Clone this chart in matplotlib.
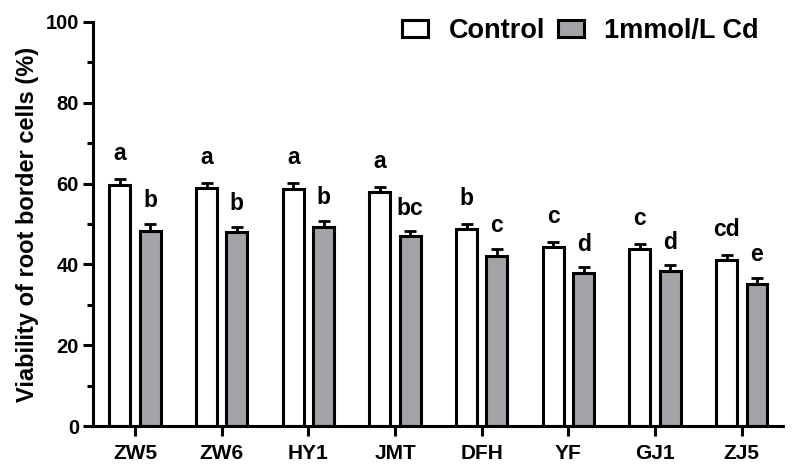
import numpy as np
import matplotlib
matplotlib.use("Agg")
import matplotlib.pyplot as plt
from matplotlib.ticker import MultipleLocator

plt.rcParams['font.family'] = ['Liberation Sans', 'DejaVu Sans']
plt.rcParams['font.weight'] = 'bold'

cultivars = ['ZW5', 'ZW6', 'HY1', 'JMT', 'DFH', 'YF', 'GJ1', 'ZJ5']
control = [59.6, 59.0, 58.7, 57.8, 48.7, 44.3, 43.8, 41.0]
control_err = [1.5, 1.1, 1.5, 1.3, 1.3, 1.3, 1.3, 1.3]
cadmium = [48.3, 47.9, 49.3, 47.0, 42.0, 37.9, 38.3, 35.2]
cadmium_err = [1.7, 1.4, 1.4, 1.2, 1.8, 1.4, 1.5, 1.4]
control_letters = ['a', 'a', 'a', 'a', 'b', 'c', 'c', 'cd']
cadmium_letters = ['b', 'b', 'b', 'bc', 'c', 'd', 'd', 'e']
series_names = ['Control', '1mmol/L Cd']

fig = plt.figure(figsize=(7.99, 4.76), dpi=100)
ax = fig.add_axes([0.1164, 0.105, 0.864, 0.849])

x = np.arange(len(cultivars))
w = 0.24
off = 0.175
lw = 2.2

ax.bar(x - off, control, w, color='white', edgecolor='black', linewidth=lw,
       label=series_names[0], zorder=2)
ax.bar(x + off, cadmium, w, color='#a2a2a7', edgecolor='black', linewidth=lw,
       label=series_names[1], zorder=2)
ax.errorbar(x - off, control, yerr=[np.zeros(len(x)), control_err], fmt='none',
            ecolor='black', elinewidth=2, capsize=4, capthick=2, zorder=3)
ax.errorbar(x + off, cadmium, yerr=[np.zeros(len(x)), cadmium_err], fmt='none',
            ecolor='black', elinewidth=2, capsize=4, capthick=2, zorder=3)

# significance letters above the error bars
for i in range(len(x)):
    ax.annotate(control_letters[i], (x[i] - off, control[i] + control_err[i]),
                xytext=(0, 13.5), textcoords='offset points', ha='center',
                va='baseline', fontsize=16.5, fontweight='bold')
    ax.annotate(cadmium_letters[i], (x[i] + off, cadmium[i] + cadmium_err[i]),
                xytext=(0, 12), textcoords='offset points', ha='center',
                va='baseline', fontsize=16.5, fontweight='bold')

ax.set_xlim(-0.485, 7.48)
ax.set_ylim(0, 100)
ax.set_xticks(x)
ax.set_xticklabels(cultivars)
ax.yaxis.set_major_locator(MultipleLocator(20))
ax.yaxis.set_minor_locator(MultipleLocator(10))
ax.tick_params(axis='x', which='major', length=7, width=lw, pad=6, labelsize=15)
ax.tick_params(axis='y', which='major', length=7, width=lw, pad=3, labelsize=14.5)
ax.tick_params(axis='y', which='minor', length=4, width=lw)
ax.spines['top'].set_visible(False)
ax.spines['right'].set_visible(False)
ax.spines['left'].set_linewidth(lw)
ax.spines['bottom'].set_linewidth(lw)
ax.set_ylabel('Viability of root border cells (%)', fontsize=17, fontweight='bold',
              labelpad=5)

ax.legend(loc='upper right', ncol=2, frameon=False,
          handlelength=0.95, handleheight=0.55, handletextpad=0.75,
          columnspacing=0.5, bbox_to_anchor=(1.0, 1.07),
          prop={'weight': 'bold', 'size': 19.5})

fig.savefig('out.png', dpi=100)
